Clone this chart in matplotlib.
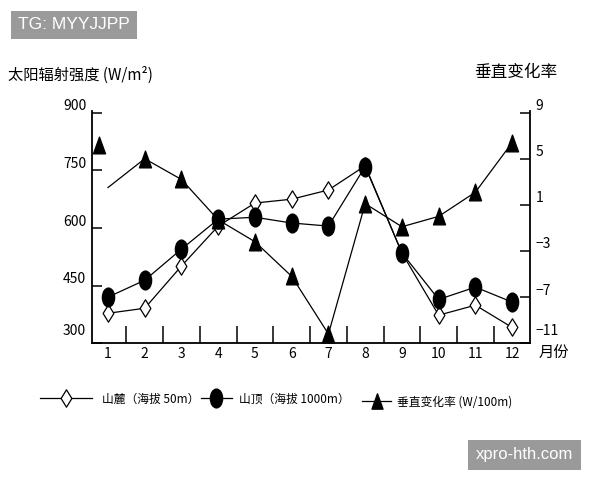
import numpy as np
import matplotlib
matplotlib.use("Agg")
import matplotlib.pyplot as plt
import matplotlib.path as mpath
import matplotlib.transforms as mtrans
from matplotlib.lines import Line2D

plt.rcParams['font.family'] = ['Noto Sans CJK SC', 'DejaVu Sans']

months = np.arange(1, 13)
foot = [378, 391, 501, 605, 665, 675, 699, 762, 535, 373, 399, 341]    # 山麓 W/m2
peak = [420, 464, 545, 623, 628, 613, 605, 760, 535, 414, 446, 407]    # 山顶 W/m2
rate = [2.5, 5.0, 3.2, -0.3, -2.2, -5.2, -10.2, 1.1, -0.9, 0.0, 2.1, 6.4]
# the month-1 triangle in the source sits off the line
rate_m1_x, rate_m1_y = 0.75, 6.2

left_ticks = [900, 750, 600, 450, 300]
right_ticks = [9, 5, 1, -3, -7, -11]

# tall markers like the drawing
c = mpath.Path.unit_circle()
ellipse = mpath.Path(c.vertices * [0.65, 1.0], c.codes)
diamond = mpath.Path([(0, 1), (0.62, 0), (0, -1), (-0.62, 0), (0, 1)],
                     [1, 2, 2, 2, 79])
tri = mpath.Path([(0, 1), (0.72, -1), (-0.72, -1), (0, 1)], [1, 2, 2, 79])

fig = plt.figure(figsize=(6, 4.8), dpi=100)
ax = fig.add_axes([0.153, 0.285, 0.73, 0.484])
ax2 = ax.twinx()

lw = 0.9
ax.plot(months, foot, color='black', lw=lw, marker=diamond, ms=12.5,
        mfc='white', mec='black', mew=0.9, zorder=3)
ax.plot(months, peak, color='black', lw=lw, marker=ellipse, ms=13.5,
        mfc='black', mec='black', zorder=4)
ax2.plot(months[1:], rate[1:], color='black', lw=lw, marker=tri, ms=12,
         mfc='black', mec='black', zorder=3, linestyle='none')
ax2.plot(months, rate, color='black', lw=lw, zorder=3)
ax2.plot([rate_m1_x], [rate_m1_y], marker=tri, ms=12, color='black')

ax.set_xlim(0.56, 12.48)
ax.set_ylim(300, 905)
ax2.set_ylim(-11, 9.15)

for a in (ax, ax2):
    a.spines['top'].set_visible(False)
    a.patch.set_visible(False)
ax2.spines['left'].set_visible(False)
ax.spines['right'].set_visible(False)
for s in ['left', 'bottom']:
    ax.spines[s].set_linewidth(1.3)
ax2.spines['right'].set_linewidth(1.3)
ax2.spines['bottom'].set_visible(False)

ax.set_xticks(months)
ax.set_xticklabels([str(m) for m in months], fontsize=10)
ax.tick_params(axis='x', which='major', length=0, pad=3)
ax.set_xticks(np.arange(1.5, 12, 1), minor=True)
ax.tick_params(axis='x', which='minor', direction='in', length=12, width=1.1)

ax.set_yticks(left_ticks)
ax.set_yticklabels([str(v) for v in left_ticks], fontsize=10)
ax.tick_params(axis='y', direction='in', length=7, width=1.1, pad=4)
ax2.set_yticks(right_ticks)
ax2.set_yticklabels([str(v).replace('-', '\u2212') for v in right_ticks],
                    fontsize=10)
ax2.tick_params(axis='y', direction='in', length=7, width=1.1, pad=4)

up = mtrans.ScaledTranslation(0, 8 / 100, fig.dpi_scale_trans)
up_more = mtrans.ScaledTranslation(0, 14 / 100, fig.dpi_scale_trans)
for labs in (ax.get_yticklabels(), ax2.get_yticklabels()):
    for i, lab in enumerate(labs):
        shift = up_more if i == len(labs) - 1 else up
        lab.set_transform(lab.get_transform() + shift)

fig.text(0.013, 0.843, '太阳辐射强度 (W/m²)', fontsize=11, va='center')
fig.text(0.79, 0.848, '垂直变化率', fontsize=12, va='center')
fig.text(0.898, 0.263, '月份', fontsize=11, va='center')

# legend, three separate entries
entries = [
    (Line2D([], [], color='black', lw=lw, marker=diamond, ms=12.5, mfc='white',
            mec='black', mew=0.9), '山麓（海拔 50m）', 0.067, 0.169, 4.4, 0.8),
    (Line2D([], [], color='black', lw=lw, marker=ellipse, ms=13.5, mfc='black',
            mec='black'), '山顶（海拔 1000m）', 0.335, 0.169, 2.6, 0.6),
    (Line2D([], [], color='black', lw=lw, marker=tri, ms=11, mfc='black',
            mec='black'), '垂直变化率 (W/100m)', 0.603, 0.163, 2.5, 0.5),
]
for h, lab, x, y, hl, tp in entries:
    fig.legend([h], [lab], loc='center left', bbox_to_anchor=(x, y),
               frameon=False, fontsize=8.5, handlelength=hl, handletextpad=tp,
               borderpad=0, borderaxespad=0)

fig.text(0.03, 0.948, 'TG: MYYJJPP', color='white', fontsize=12.5,
         va='center', family='Liberation Sans',
         bbox=dict(boxstyle='square,pad=0.4', fc='#9a9a9a', ec='none'))
fig.text(0.793, 0.053, 'xpro-hth.com', color='white', fontsize=12,
         va='center', family='Liberation Sans',
         bbox=dict(boxstyle='square,pad=0.45', fc='#9a9a9a', ec='none'))

fig.savefig('out.png', dpi=100)
